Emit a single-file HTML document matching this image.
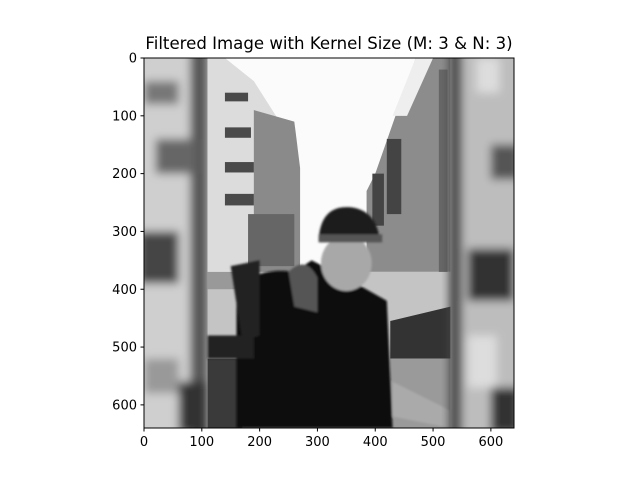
<!DOCTYPE html>
<html><head><meta charset="utf-8"><style>
body{margin:0;background:#fff;font-family:"DejaVu Sans",sans-serif}
svg text{font-family:"DejaVu Sans","Liberation Sans",sans-serif}
</style></head><body>
<svg width="640" height="480" viewBox="0 0 640 480">
<defs>
<filter id="b8"><feGaussianBlur stdDeviation="8"/></filter>
<filter id="b2"><feGaussianBlur stdDeviation="2"/></filter>
<clipPath id="c"><rect x="0" y="0" width="640" height="640"/></clipPath>
</defs>
<text x="329" y="49" font-size="16.6" text-anchor="middle">Filtered Image with Kernel Size (M: 3 &amp; N: 3)</text>
<g transform="translate(144,58) scale(0.578125)" clip-path="url(#c)">
<rect width="640" height="640" fill="#c8c8c8"/>
<g filter="url(#b8)">
<rect x="-20" y="-20" width="130" height="680" fill="#cfcfcf"/>
<rect x="80" y="-20" width="30" height="680" fill="#555"/>
<rect x="0" y="40" width="60" height="40" fill="#777"/>
<rect x="20" y="140" width="70" height="60" fill="#666"/>
<rect x="-10" y="300" width="70" height="90" fill="#444"/>
<rect x="0" y="520" width="60" height="60" fill="#999"/>
<rect x="60" y="560" width="50" height="90" fill="#333"/>
</g>
<rect x="110" y="0" width="420" height="380" fill="#fbfbfb"/>
<polygon points="110,0 140,0 190,40 260,150 260,370 110,370" fill="#dcdcdc"/>
<polygon points="190,90 260,110 270,190 270,370 190,370" fill="#8a8a8a"/>
<g fill="#4a4a4a">
<rect x="140" y="60" width="40" height="15"/>
<rect x="140" y="120" width="45" height="18"/>
<rect x="140" y="180" width="50" height="18"/>
<rect x="140" y="235" width="50" height="20"/>
<rect x="180" y="270" width="80" height="90" fill="#666"/>
</g>
<polygon points="530,0 470,0 400,200 385,230 385,370 530,370" fill="#8c8c8c"/>
<polygon points="470,0 500,0 455,100 430,100" fill="#eee"/>
<g fill="#444">
<rect x="420" y="140" width="25" height="130"/>
<rect x="395" y="200" width="20" height="90"/>
<rect x="510" y="20" width="15" height="360" fill="#666"/>
</g>
<rect x="110" y="370" width="420" height="270" fill="#c4c4c4"/>
<rect x="110" y="370" width="80" height="30" fill="#999"/>
<polygon points="426,455 530,430 530,520 426,520" fill="#333"/>
<rect x="426" y="520" width="104" height="120" fill="#9a9a9a"/>
<rect x="110" y="520" width="60" height="120" fill="#3a3a3a"/>
<g filter="url(#b2)">
<path d="M160,400 Q200,360 260,370 L290,350 Q350,380 420,420 L430,640 L160,640 Z" fill="#111"/>
<path d="M150,360 L200,350 L200,480 L170,490 Z" fill="#222"/>
<rect x="110" y="480" width="80" height="40" fill="#222"/>
<ellipse cx="350" cy="355" rx="44" ry="48" fill="#a8a8a8"/>
<path d="M302,316 Q305,255 355,258 Q402,262 408,316 Z" fill="#1e1e1e"/>
<rect x="302" y="305" width="110" height="14" fill="#555"/>
<path d="M250,370 Q280,340 300,380 L300,440 L260,430 Z" fill="#555"/>
<path d="M430,560 L530,610 L530,640 L430,620 Z" fill="#aaa"/>
</g>
<g filter="url(#b8)">
<rect x="530" y="-20" width="130" height="680" fill="#bdbdbd"/>
<rect x="528" y="-20" width="22" height="680" fill="#444"/>
<rect x="575" y="0" width="40" height="60" fill="#ddd"/>
<rect x="600" y="150" width="50" height="60" fill="#555"/>
<rect x="560" y="330" width="80" height="90" fill="#333"/>
<rect x="560" y="480" width="50" height="90" fill="#ddd"/>
<rect x="600" y="570" width="50" height="80" fill="#333"/>
</g>
</g>
<rect x="144" y="58" width="370" height="370" fill="none" stroke="#000" stroke-width="1"/>
<g id="xt" font-size="13" text-anchor="middle"></g>
<g id="yt" font-size="13" text-anchor="end"></g>
</svg>
<script>
const xTicks=[0,100,200,300,400,500,600];
const yTicks=[0,100,200,300,400,500,600];
const s=370/640;
const ns="http://www.w3.org/2000/svg";
const xg=document.getElementById('xt'),yg=document.getElementById('yt');
xTicks.forEach(v=>{const x=144+v*s;
const l=document.createElementNS(ns,'line');l.setAttribute('x1',x);l.setAttribute('x2',x);l.setAttribute('y1',428);l.setAttribute('y2',431.5);l.setAttribute('stroke','#000');


xg.appendChild(l);
const t=document.createElementNS(ns,'text');t.setAttribute('x',x);t.setAttribute('y',446);t.textContent=v;


xg.appendChild(t);});
yTicks.forEach(v=>{const y=58+v*s;
const l=document.createElementNS(ns,'line');l.setAttribute('x1',140.5);l.setAttribute('x2',144);l.setAttribute('y1',y);l.setAttribute('y2',y);l.setAttribute('stroke','#000');


yg.appendChild(l);
const t=document.createElementNS(ns,'text');t.setAttribute('x',137);t.setAttribute('y',y+4.5);t.textContent=v;


yg.appendChild(t);});
</script>
</body></html>
